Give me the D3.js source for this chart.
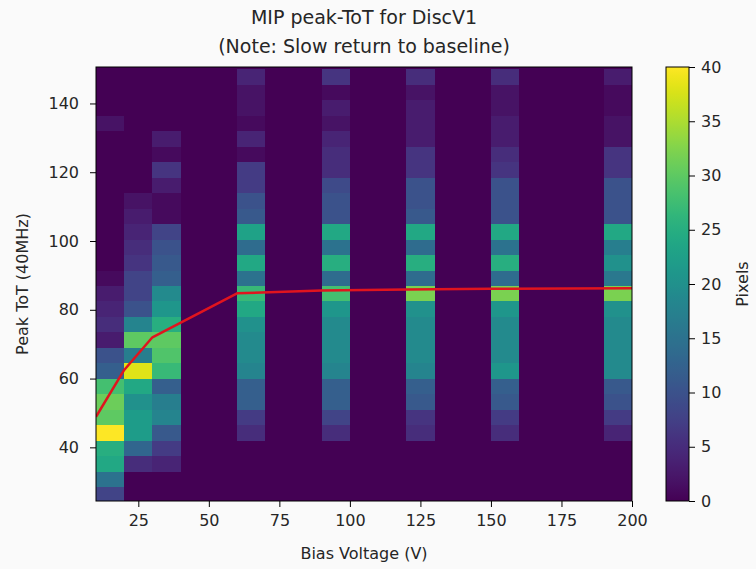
<!DOCTYPE html>
<html>
<head>
<meta charset="utf-8">
<script src="https://cdn.jsdelivr.net/npm/d3@7"></script>
<style>
  html, body { margin: 0; padding: 0; background: #fafafa; }
  svg { display: block; font-family: "DejaVu Sans", sans-serif; }
</style>
</head>
<body>
<svg id="chart" width="756" height="569"></svg>
<script>
// ---------------- DATA ----------------
const titleLines = ["MIP peak-ToT for DiscV1", "(Note: Slow return to baseline)"];
const xLabel = "Bias Voltage (V)";
const yLabel = "Peak ToT (40MHz)";
const cbLabel = "Pixels";

// histogram binning
const xBinStart = 10, xBinEnd = 200, xBinWidth = 10;     // 19 bins
const yBinStart = 24, yBinWidth = 4.5, yBinCount = 28;    // 24 .. 150
const yAxisMin = 24.4, yAxisMax = 150.6;

const xTicks = [25, 50, 75, 100, 125, 150, 175, 200];
const yTicks = [40, 60, 80, 100, 120, 140];
const cbTicks = [0, 5, 10, 15, 20, 25, 30, 35, 40];
const colorMax = 40;

// measured bias voltages
const voltages = [10, 20, 30, 60, 90, 120, 150, 200];

// pixel counts per ToT bin (bottom bin first), one array per voltage
const counts10  = [8,15,24,25,40,30,31,28,12,10,3,5,4,3,1,0,0,0,0,0,0,0,0,0,2,0,0,0];
const counts20  = [0,0,5,13,22,22,20,24,38,17,30,18,10,8,8,6,5,4,3,2,0,0,0,0,0,0,0,0];
const counts30  = [0,0,4,7,11,18,17,12,27,29,30,25,21,19,12,11,10,8,1,1,3,6,1,3,0,0,0,0];
const counts60  = [0,0,0,0,5,7,12,12,18,19,19,20,24,27,15,24,14,23,11,10,7,7,1,4,1,2,2,4];
const counts90  = [0,0,0,0,5,8,12,12,18,19,19,19,21,28,14,25,15,24,10,10,9,5,5,4,2,3,1,6];
const counts120 = [0,0,0,0,5,6,11,12,18,19,19,19,20,32,14,25,14,24,11,10,10,6,6,3,3,3,2,5];
const counts150 = [0,0,0,0,5,7,11,12,21,19,19,19,21,32,14,25,15,24,10,10,10,6,5,3,3,2,2,5];
const counts200 = [0,0,0,0,4,7,10,11,19,19,19,19,20,32,16,20,17,24,10,10,10,6,6,2,2,1,1,3];
const countsByVoltage = [counts10, counts20, counts30, counts60, counts90, counts120, counts150, counts200];

// mean peak ToT (red line)
const meanVoltage = [10, 20, 30, 60, 90, 120, 150, 200];
const meanToT     = [48.9, 62.5, 72.0, 84.8, 85.6, 85.9, 86.1, 86.3];

// ---------------- LAYOUT ----------------
const plot = { left: 96, right: 632, top: 67, bottom: 501 };
const cb = { left: 666, right: 689, top: 67, bottom: 501 };

const svg = d3.select("#chart");

const x = d3.scaleLinear().domain([xBinStart, xBinEnd]).range([plot.left, plot.right]);
const y = d3.scaleLinear().domain([yAxisMin, yAxisMax]).range([plot.bottom, plot.top]);
const color = v => d3.interpolateViridis(Math.max(0, Math.min(1, v / colorMax)));

// build full grid of cells
const nX = Math.round((xBinEnd - xBinStart) / xBinWidth);
const cells = [];
for (let i = 0; i < nX; i++) {
  const x0 = xBinStart + i * xBinWidth;
  for (let k = 0; k < yBinCount; k++) {
    cells.push({ x0, x1: x0 + xBinWidth, y0: yBinStart + k * yBinWidth, y1: yBinStart + (k + 1) * yBinWidth, v: 0 });
  }
}
voltages.forEach((volt, vi) => {
  let i = Math.floor((volt - xBinStart) / xBinWidth);
  if (i >= nX) i = nX - 1;
  countsByVoltage[vi].forEach((c, k) => { cells[i * yBinCount + k].v += c; });
});

svg.append("clipPath").attr("id", "plotclip")
  .append("rect").attr("x", plot.left).attr("y", plot.top)
  .attr("width", plot.right - plot.left).attr("height", plot.bottom - plot.top);

const g = svg.append("g").attr("clip-path", "url(#plotclip)");
g.append("rect").attr("x", plot.left).attr("y", plot.top)
  .attr("width", plot.right - plot.left).attr("height", plot.bottom - plot.top)
  .attr("fill", color(0));
g.selectAll("rect.cell").data(cells).join("rect")
  .attr("class", "cell")
  .attr("x", d => x(d.x0))
  .attr("y", d => y(d.y1))
  .attr("width", d => x(d.x1) - x(d.x0) + 0.3)
  .attr("height", d => y(d.y0) - y(d.y1) + 0.3)
  .attr("fill", d => color(d.v))
  .attr("shape-rendering", "crispEdges");

// red mean line
const line = d3.line().x(d => x(d[0])).y(d => y(d[1]));
g.append("path")
  .datum(meanVoltage.map((v, i) => [v, meanToT[i]]))
  .attr("d", line)
  .attr("fill", "none")
  .attr("stroke", "#e0141e")
  .attr("stroke-width", 2.5)
  .attr("stroke-linejoin", "round");

// frame
svg.append("rect").attr("x", plot.left).attr("y", plot.top)
  .attr("width", plot.right - plot.left).attr("height", plot.bottom - plot.top)
  .attr("fill", "none").attr("stroke", "#000").attr("stroke-width", 1);

// axes
const fontSize = 16;
const xAxis = svg.append("g").attr("transform", `translate(0,${plot.bottom})`)
  .call(d3.axisBottom(x).tickValues(xTicks).tickSize(6).tickPadding(8).tickFormat(d3.format("d")));
const yAxis = svg.append("g").attr("transform", `translate(${plot.left},0)`)
  .call(d3.axisLeft(y).tickValues(yTicks).tickSize(6).tickPadding(11).tickFormat(d3.format("d")));
[xAxis, yAxis].forEach(a => {
  a.select(".domain").remove();
  a.selectAll("line").attr("stroke", "#000");
  a.selectAll("text").attr("font-size", fontSize).attr("fill", "#262626")
    .attr("font-family", "DejaVu Sans, sans-serif");
});

// axis labels
svg.append("text").attr("x", (plot.left + plot.right) / 2).attr("y", 559)
  .attr("text-anchor", "middle").attr("font-size", fontSize).attr("fill", "#262626").text(xLabel);
svg.append("text").attr("transform", `translate(28,${(plot.top + plot.bottom) / 2}) rotate(-90)`)
  .attr("text-anchor", "middle").attr("font-size", fontSize).attr("fill", "#262626").text(yLabel);

// title
svg.append("text").attr("x", (plot.left + plot.right) / 2).attr("y", 24)
  .attr("text-anchor", "middle").attr("font-size", 19).attr("fill", "#262626").text(titleLines[0]);
svg.append("text").attr("x", (plot.left + plot.right) / 2).attr("y", 53)
  .attr("text-anchor", "middle").attr("font-size", 19).attr("fill", "#262626").text(titleLines[1]);

// colorbar
const defs = svg.append("defs");
const grad = defs.append("linearGradient").attr("id", "cbgrad")
  .attr("x1", "0").attr("y1", "1").attr("x2", "0").attr("y2", "0");
d3.range(0, 1.0001, 0.02).forEach(t => {
  grad.append("stop").attr("offset", t).attr("stop-color", d3.interpolateViridis(t));
});
svg.append("rect").attr("x", cb.left).attr("y", cb.top)
  .attr("width", cb.right - cb.left).attr("height", cb.bottom - cb.top)
  .attr("fill", "url(#cbgrad)").attr("stroke", "#000").attr("stroke-width", 1);
const cbScale = d3.scaleLinear().domain([0, colorMax]).range([cb.bottom, cb.top]);
const cbAxis = svg.append("g").attr("transform", `translate(${cb.right},0)`)
  .call(d3.axisRight(cbScale).tickValues(cbTicks).tickSize(6).tickPadding(6).tickFormat(d3.format("d")));
cbAxis.select(".domain").remove();
cbAxis.selectAll("line").attr("stroke", "#000");
cbAxis.selectAll("text").attr("font-size", fontSize).attr("fill", "#262626")
  .attr("font-family", "DejaVu Sans, sans-serif");
svg.append("text").attr("transform", `translate(748,${(cb.top + cb.bottom) / 2}) rotate(-90)`)
  .attr("text-anchor", "middle").attr("font-size", fontSize).attr("fill", "#262626").text(cbLabel);
</script>
</body>
</html>
